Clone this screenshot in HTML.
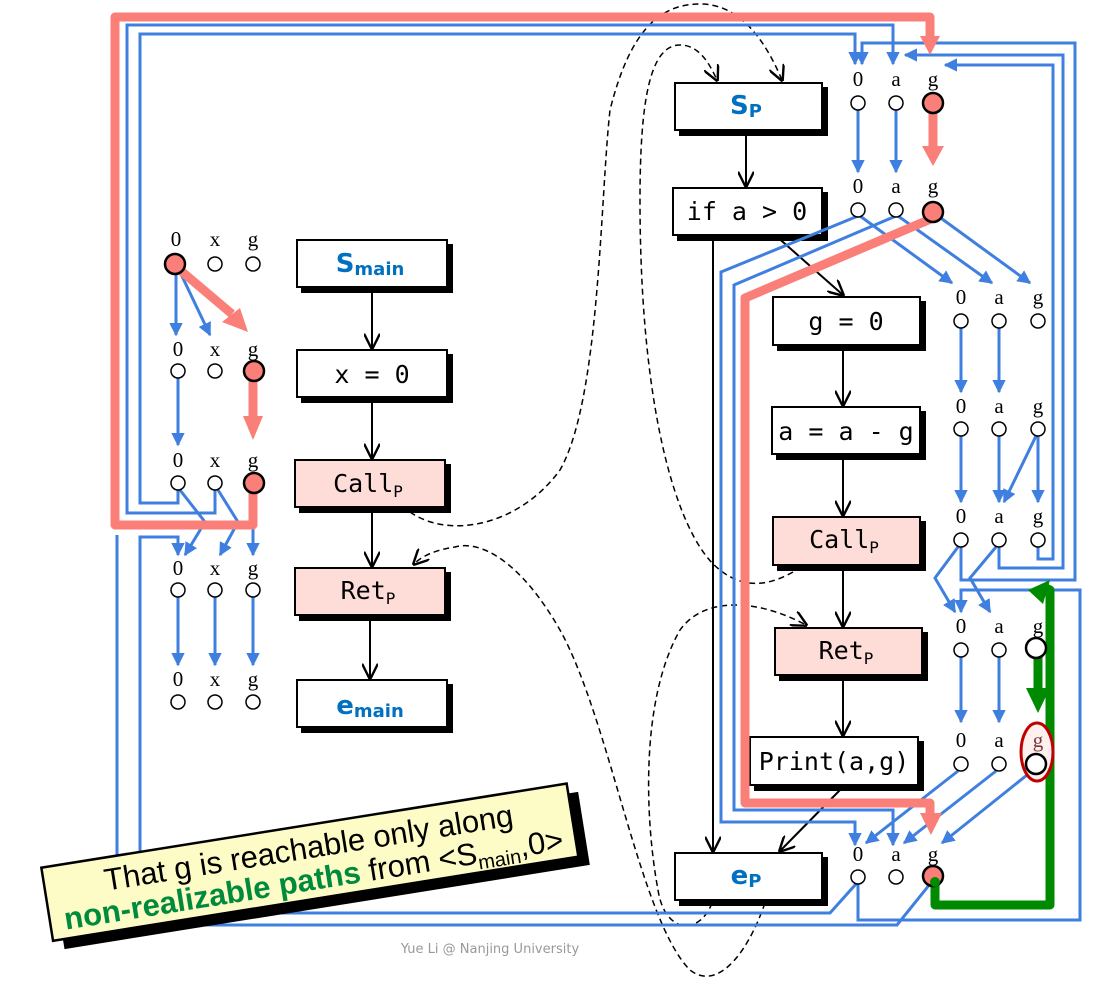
<!DOCTYPE html>
<html><head><meta charset="utf-8"><style>
html,body{margin:0;padding:0;background:#fff;}
svg{display:block;}
.lb{font-family:"Liberation Serif",serif;font-size:21px;text-anchor:middle;fill:#000;}
.bx{font-family:"DejaVu Sans Mono","Liberation Mono",monospace;font-size:25px;text-anchor:middle;fill:#000;}
.bl{font-family:"DejaVu Sans","Liberation Sans",sans-serif;font-size:26px;font-weight:bold;fill:#0070c0;text-anchor:middle;}
</style></head><body>
<svg width="1115" height="990" viewBox="0 0 1115 990" xmlns="http://www.w3.org/2000/svg">
<defs>
<marker id="ab" viewBox="0 0 10 10" refX="9" refY="5" markerWidth="4.5" markerHeight="4.5" orient="auto"><path d="M0,0 L10,5 L0,10 z" fill="#3f7fdf"/></marker>
<marker id="ak" viewBox="0 0 10 10" refX="9" refY="5" markerWidth="16" markerHeight="16" markerUnits="userSpaceOnUse" orient="auto"><path d="M0,0 L10,5 L0,10" fill="none" stroke="#000" stroke-width="1.5"/></marker>
</defs>

<g fill="none" stroke="#000" stroke-width="1.5" stroke-dasharray="6,4">
<path d="M410,512 C450,540 520,525 560,470 C600,400 600,200 610,110 C630,30 660,4 700,4 C740,4 765,40 782,80" marker-end="url(#ak)"/>
<path d="M793,572 C770,585 745,590 720,570 C680,540 640,420 640,200 C640,100 650,45 680,45 C700,45 710,65 717,80" marker-end="url(#ak)"/>
<path d="M765,903 C745,960 715,990 690,970 C640,920 610,720 560,630 C520,560 480,540 455,547 C435,550 422,556 414,564" marker-end="url(#ak)"/>
<path d="M712,903 C700,935 665,935 658,890 C645,820 640,700 680,630 C705,595 760,600 806,625" marker-end="url(#ak)"/>
</g>

<g stroke="#000" stroke-width="2">
<rect x="302" y="245" width="150" height="47" fill="#000"/><rect x="297" y="240" width="150" height="47" fill="#fff"/>
<rect x="302" y="355" width="150" height="47" fill="#000"/><rect x="297" y="350" width="150" height="47" fill="#fff"/>
<rect x="300" y="465" width="150" height="47" fill="#000"/><rect x="295" y="460" width="150" height="47" fill="#fedcd8"/>
<rect x="300" y="573" width="150" height="47" fill="#000"/><rect x="295" y="568" width="150" height="47" fill="#fedcd8"/>
<rect x="302" y="685" width="150" height="47" fill="#000"/><rect x="297" y="680" width="150" height="47" fill="#fff"/>
<rect x="680" y="88" width="147" height="47" fill="#000"/><rect x="675" y="83" width="147" height="47" fill="#fff"/>
<rect x="678" y="193" width="149" height="47" fill="#000"/><rect x="673" y="188" width="149" height="47" fill="#fff"/>
<rect x="778" y="302" width="147" height="48" fill="#000"/><rect x="773" y="297" width="147" height="48" fill="#fff"/>
<rect x="777" y="412" width="148" height="47" fill="#000"/><rect x="772" y="407" width="148" height="47" fill="#fff"/>
<rect x="778" y="522" width="147" height="48" fill="#000"/><rect x="773" y="517" width="147" height="48" fill="#fedcd8"/>
<rect x="780" y="633" width="147" height="47" fill="#000"/><rect x="775" y="628" width="147" height="47" fill="#fedcd8"/>
<rect x="755" y="742" width="168" height="48" fill="#000"/><rect x="750" y="737" width="168" height="48" fill="#fff"/>
<rect x="680" y="858" width="147" height="47" fill="#000"/><rect x="675" y="853" width="147" height="47" fill="#fff"/>
</g>
<text class="bl" x="370" y="272">S<tspan font-size="18" dy="3">main</tspan></text>
<text class="bx" x="372" y="383">x = 0</text>
<text class="bx" x="368" y="492">Call<tspan font-size="16" dy="5">P</tspan></text>
<text class="bx" x="368" y="599">Ret<tspan font-size="16" dy="5">P</tspan></text>
<text class="bl" x="370" y="714">e<tspan font-size="18" dy="3">main</tspan></text>
<text class="bl" x="746" y="114">S<tspan font-size="18" dy="3">P</tspan></text>
<text class="bx" x="747" y="220">if a &gt; 0</text>
<text class="bx" x="846" y="330">g = 0</text>
<text class="bx" x="846" y="440">a = a - g</text>
<text class="bx" x="844" y="548">Call<tspan font-size="16" dy="5">P</tspan></text>
<text class="bx" x="846" y="659">Ret<tspan font-size="16" dy="5">P</tspan></text>
<text class="bx" x="834" y="770">Print(a,g)</text>
<text class="bl" x="746" y="884">e<tspan font-size="18" dy="3">P</tspan></text>

<g stroke="#000" stroke-width="2" fill="none" marker-end="url(#ak)">
<line x1="372" y1="292" x2="372" y2="348"/>
<line x1="372" y1="402" x2="372" y2="458"/>
<line x1="372" y1="512" x2="372" y2="566"/>
<line x1="370" y1="620" x2="370" y2="678"/>
<line x1="746" y1="135" x2="746" y2="186"/>
<line x1="775" y1="235" x2="843" y2="295"/>
<line x1="713" y1="240" x2="713" y2="851"/>
<line x1="843" y1="350" x2="843" y2="405"/>
<line x1="843" y1="459" x2="843" y2="515"/>
<line x1="843" y1="570" x2="843" y2="626"/>
<line x1="843" y1="680" x2="843" y2="735"/>
<line x1="840" y1="790" x2="780" y2="851"/>
</g>

<g stroke="#3f7fdf" stroke-width="3" fill="none">
<g marker-end="url(#ab)">
<line x1="176" y1="272" x2="176" y2="335"/>
<line x1="180" y1="272" x2="210" y2="335"/>
<line x1="178" y1="378" x2="178" y2="445"/>
<line x1="178" y1="597" x2="178" y2="665"/>
<line x1="215" y1="597" x2="215" y2="665"/>
<line x1="253" y1="597" x2="253" y2="665"/>
<polyline points="180,490 205,522 185,555"/>
<polyline points="218,490 238,522 220,555"/>
<line x1="253" y1="528" x2="253" y2="555"/>
<polyline points="140,830 140,537 178,537 178,555"/>
<polyline points="178,490 178,503 140,503 140,34 855,34 855,64"/>
<polyline points="215,490 215,513 127,513 127,25 893,25 893,64"/>
<line x1="858" y1="110" x2="858" y2="172"/>
<line x1="896" y1="110" x2="896" y2="172"/>
<line x1="860" y1="216" x2="952" y2="283"/>
<line x1="898" y1="216" x2="992" y2="283"/>
<line x1="938" y1="216" x2="1030" y2="283"/>
<line x1="961" y1="328" x2="961" y2="392"/>
<line x1="999" y1="328" x2="999" y2="392"/>
<line x1="961" y1="436" x2="961" y2="502"/>
<line x1="999" y1="436" x2="999" y2="502"/>
<line x1="1038" y1="436" x2="1038" y2="502"/>
<line x1="1036" y1="436" x2="1004" y2="502"/>
<polyline points="1038,547 1038,559 1053,559 1053,65 945,65"/>
<polyline points="999,547 999,568 1063,568 1063,55 905,55"/>
<polyline points="961,547 961,580 1075,580 1075,43 862,43 862,64"/>
<polyline points="958,547 935,578 955,612"/>
<polyline points="996,547 970,578 990,612"/>
<polyline points="858,884 858,920 1080,920 1080,590 961,590 961,612"/>
<line x1="961" y1="657" x2="961" y2="722"/>
<line x1="999" y1="657" x2="999" y2="722"/>
<polyline points="858,216 721,272 721,822 855,822 855,845"/>
<polyline points="896,216 734,285 734,810 893,810 893,845"/>
<line x1="958" y1="771" x2="866" y2="843"/>
<line x1="996" y1="771" x2="904" y2="843"/>
<line x1="1032" y1="771" x2="942" y2="843"/>
</g>
<polyline points="856,884 830,913 117,913 117,535"/>
<polyline points="930,884 897,925 140,925 140,830"/>
</g>

<g stroke="#fa7f78" stroke-width="9" fill="none" stroke-linejoin="round">
<line x1="180" y1="270" x2="232" y2="314"/>
<line x1="253" y1="378" x2="253" y2="418"/>
<polyline points="253,490 253,525 115,525 115,17 930,17 930,38"/>
<line x1="933" y1="110" x2="933" y2="148"/>
<polyline points="933,218 745,298 745,803 930,803 930,815"/>
</g>
<g fill="#fa7f78">
<polygon points="222,322 248,332 240,308"/>
<polygon points="243,416 263,416 253,440"/>
<polygon points="920,36 940,36 930,55"/>
<polygon points="922,146 944,146 933,166"/>
<polygon points="920,813 942,813 931,835"/>
</g>

<g stroke="#008a00" stroke-width="9" fill="none" stroke-linejoin="round">
<polyline points="935,884 935,905 1050,905 1050,590 1046,588"/>
<line x1="1038" y1="657" x2="1038" y2="690"/>
</g>
<polygon points="1028,590 1050,580 1043,604" fill="#008a00"/>
<polygon points="1026,688 1050,688 1038,713" fill="#008a00"/>

<ellipse cx="1037" cy="752" rx="16" ry="29" fill="#fdf0ee" stroke="#c00000" stroke-width="3"/>

<g class="lb">
<text x="176" y="246">0</text><text x="215" y="246">x</text><text x="253" y="246">g</text>
<text x="178" y="356">0</text><text x="215" y="356">x</text><text x="253" y="356">g</text>
<text x="178" y="467">0</text><text x="215" y="467">x</text><text x="253" y="467">g</text>
<text x="178" y="575">0</text><text x="215" y="575">x</text><text x="253" y="575">g</text>
<text x="178" y="686">0</text><text x="215" y="686">x</text><text x="253" y="686">g</text>
<text x="858" y="86">0</text><text x="896" y="86">a</text><text x="933" y="86">g</text>
<text x="858" y="193">0</text><text x="896" y="193">a</text><text x="933" y="193">g</text>
<text x="961" y="304">0</text><text x="999" y="304">a</text><text x="1038" y="304">g</text>
<text x="961" y="413">0</text><text x="999" y="413">a</text><text x="1038" y="413">g</text>
<text x="961" y="523">0</text><text x="999" y="523">a</text><text x="1038" y="523">g</text>
<text x="961" y="633">0</text><text x="999" y="633">a</text><text x="1038" y="633">g</text>
<text x="961" y="747">0</text><text x="999" y="747">a</text><text x="1038" y="747" fill="#7a3a3a">g</text>
<text x="858" y="861">0</text><text x="896" y="861">a</text><text x="933" y="861">g</text>
</g>
<g fill="#fff" stroke="#000" stroke-width="1.5">
<circle cx="215" cy="264" r="7"/><circle cx="253" cy="264" r="7"/>
<circle cx="178" cy="371" r="7"/><circle cx="215" cy="371" r="7"/>
<circle cx="178" cy="483" r="7"/><circle cx="215" cy="483" r="7"/>
<circle cx="178" cy="590" r="7"/><circle cx="215" cy="590" r="7"/><circle cx="253" cy="590" r="7"/>
<circle cx="178" cy="702" r="7"/><circle cx="215" cy="702" r="7"/><circle cx="253" cy="702" r="7"/>
<circle cx="858" cy="103" r="7"/><circle cx="896" cy="103" r="7"/>
<circle cx="858" cy="210" r="7"/><circle cx="896" cy="210" r="7"/>
<circle cx="961" cy="321" r="7"/><circle cx="999" cy="321" r="7"/><circle cx="1038" cy="321" r="7"/>
<circle cx="961" cy="429" r="7"/><circle cx="999" cy="429" r="7"/><circle cx="1038" cy="429" r="7"/>
<circle cx="961" cy="540" r="7"/><circle cx="999" cy="540" r="7"/><circle cx="1038" cy="540" r="7"/>
<circle cx="961" cy="650" r="7"/><circle cx="999" cy="650" r="7"/>
<circle cx="961" cy="764" r="7"/><circle cx="999" cy="764" r="7"/>
<circle cx="858" cy="877" r="7"/><circle cx="896" cy="877" r="7"/>
</g>
<g fill="#fff" stroke="#000" stroke-width="2.5">
<circle cx="1036" cy="648" r="10"/><circle cx="1036" cy="764" r="10"/>
</g>
<g fill="#fa7f78" stroke="#000" stroke-width="2.5">
<circle cx="175" cy="264" r="10"/><circle cx="254" cy="371" r="10"/><circle cx="254" cy="483" r="10"/>
<circle cx="933" cy="103" r="10"/><circle cx="933" cy="212" r="10"/><circle cx="933" cy="876" r="10"/>
</g>
<circle cx="935" cy="882" r="5" fill="#008a00"/>

<g transform="translate(311,863) rotate(-9.1)">
<rect x="-262" y="-33" width="532" height="74" fill="#000" transform="translate(5,5)"/>
<rect x="-267" y="-38" width="532" height="74" fill="#fdfbc6" stroke="#000" stroke-width="2.5"/>
<text x="0" y="-5" font-family="Liberation Sans, sans-serif" font-size="31" text-anchor="middle">That g is reachable only along</text>
<text x="0" y="27" font-family="Liberation Sans, sans-serif" font-size="31" text-anchor="middle"><tspan fill="#008a3e" font-weight="bold">non-realizable paths</tspan> from &lt;S<tspan font-size="20" dy="6">main</tspan><tspan dy="-6">,0&gt;</tspan></text>
</g>

<text x="490" y="953" font-family="DejaVu Sans, Liberation Sans, sans-serif" font-size="13" fill="#999" text-anchor="middle">Yue Li @ Nanjing University</text>
</svg>
</body></html>
